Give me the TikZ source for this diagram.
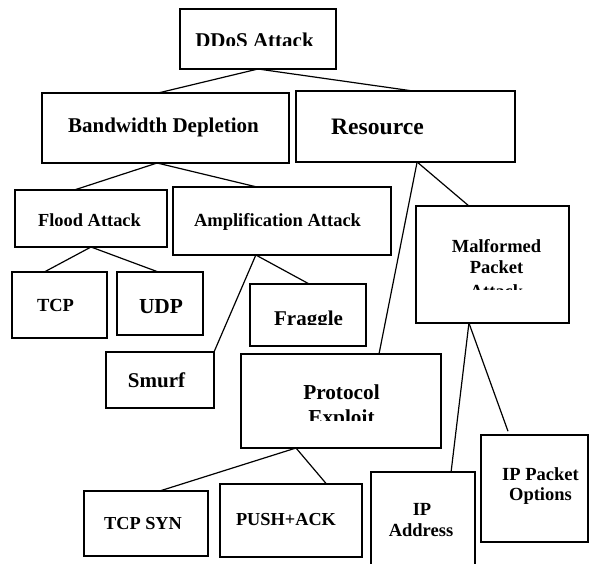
\documentclass[tikz,border=0pt]{standalone}
\usepackage{fontspec}
\setmainfont{Liberation Serif}
\usetikzlibrary{calc}
\tikzset{
  box/.style={draw, line width=1.5pt, inner sep=0pt, outer sep=0pt},
  conn/.style={draw, line width=1.2pt},
  lbl/.style={inner sep=0pt, anchor=base, font=\bfseries\fontsize{#1}{#1}\selectfont},
}
\begin{document}
\begin{tikzpicture}[x=1pt,y=-1pt]
\clip (0,0) rectangle (589,564);
\fill[white] (0,0) rectangle (589,564);
% boxes
\node[box, minimum width=156pt, minimum height=60pt] (ddos) at (258,39) {};
\node[box, minimum width=247pt, minimum height=70pt] (bd) at (165.5,128) {};
\node[box, minimum width=219pt, minimum height=71pt] (res) at (405.5,126.5) {};
\node[box, minimum width=152pt, minimum height=57pt] (flood) at (91,218.5) {};
\node[box, minimum width=218pt, minimum height=68pt] (amp) at (282,221) {};
\node[box, minimum width=95pt, minimum height=66pt] (tcp) at (59.5,305) {};
\node[box, minimum width=86pt, minimum height=63pt] (udp) at (160,303.5) {};
\node[box, minimum width=116pt, minimum height=62pt] (frag) at (308,315) {};
\node[box, minimum width=108pt, minimum height=56pt] (smurf) at (160,380) {};
\node[box, minimum width=200pt, minimum height=94pt] (proto) at (341,401) {};
\node[box, minimum width=153pt, minimum height=117pt] (mal) at (492.5,264.5) {};
\node[box, minimum width=124pt, minimum height=65pt] (syn) at (146,523.5) {};
\node[box, minimum width=142pt, minimum height=73pt] (push) at (291,520.5) {};
\node[box, minimum width=104pt, minimum height=108pt] (ipa) at (423,526) {};
\node[box, minimum width=107pt, minimum height=107pt] (ipp) at (534.5,488.5) {};
% labels
\begin{scope}\clip (181,10) rectangle (335,45.5);
\node[lbl=21] (tddos) at (254.5,47.5) {DDoS Attack};
\end{scope}
\node[lbl=21] (tbd) at (163.5,133) {Bandwidth Depletion};
\node[lbl=23.6] (tres) at (377.5,135) {Resource};
\begin{scope}\clip (16,191) rectangle (166,225.5);
\node[lbl=18.4] (tflood) at (89.5,227) {Flood Attack};
\end{scope}
\node[lbl=18.5] (tamp) at (277.5,227) {Amplification Attack};
\node[lbl=18.5] (ttcp) at (55.5,311) {TCP};
\node[lbl=21.4] (tudp) at (161,313) {UDP};
\begin{scope}\clip (251,285) rectangle (365,324);
\node[lbl=21] (tfrag) at (308.5,325) {Fraggle};
\end{scope}
\node[lbl=21] (tsmurf) at (156.5,387) {Smurf};
\node[lbl=21.3] (tproto1) at (341.5,399) {Protocol};
\begin{scope}\clip (242,355) rectangle (440,420);
\node[lbl=21.3] (tproto2) at (341.5,424) {Exploit};
\end{scope}
\node[lbl=18.5] (tmal1) at (496.5,252) {Malformed};
\node[lbl=18.5] (tmal2) at (496.5,273) {Packet};
\begin{scope}\clip (417,207) rectangle (568,289);
\node[lbl=18.5] (tmal3) at (496.5,297) {Attack};
\end{scope}
\node[lbl=18.3] (tsyn) at (143,529) {TCP SYN};
\node[lbl=18.3] (tpush) at (286,525) {PUSH+ACK};
\node[lbl=18.5] (tipp1) at (540.5,480) {IP Packet};
\node[lbl=18.5] (tipp2) at (540.5,500) {Options};
\node[lbl=18.5] (tipa1) at (422,515) {IP};
\node[lbl=18.5] (tipa2) at (421,536) {Address};
% connectors
\draw[conn] (ddos.south) -- ($(bd.north west)!0.47!(bd.north east)$);
\draw[conn] (ddos.south) -- ($(res.north west)!0.534!(res.north east)$);
\draw[conn] ($(bd.south west)!0.466!(bd.south east)$) -- ($(flood.north west)!0.39!(flood.north east)$);
\draw[conn] ($(bd.south west)!0.466!(bd.south east)$) -- ($(amp.north west)!0.385!(amp.north east)$);
\draw[conn] ($(res.south west)!0.553!(res.south east)$) -- ($(proto.north west)!0.69!(proto.north east)$);
\draw[conn] ($(res.south west)!0.553!(res.south east)$) -- ($(mal.north west)!0.346!(mal.north east)$);
\draw[conn] (flood.south) -- ($(tcp.north west)!0.34!(tcp.north east)$);
\draw[conn] (flood.south) -- ($(udp.north west)!0.48!(udp.north east)$);
\draw[conn] ($(amp.south west)!0.38!(amp.south east)$) -- ($(frag.north west)!0.51!(frag.north east)$);
\draw[conn] ($(amp.south west)!0.38!(amp.south east)$) -- (smurf.north east);
\draw[conn] ($(proto.south west)!0.275!(proto.south east)$) -- ($(syn.north west)!0.61!(syn.north east)$);
\draw[conn] ($(proto.south west)!0.275!(proto.south east)$) -- ($(push.north west)!0.75!(push.north east)$);
\draw[conn] ($(mal.south west)!0.346!(mal.south east)$) -- ($(ipa.north west)!0.77!(ipa.north east)$);
\draw[conn, shorten >=4pt] ($(mal.south west)!0.346!(mal.south east)$) -- ($(ipp.north west)!0.265!(ipp.north east)$);
\end{tikzpicture}
\end{document}
